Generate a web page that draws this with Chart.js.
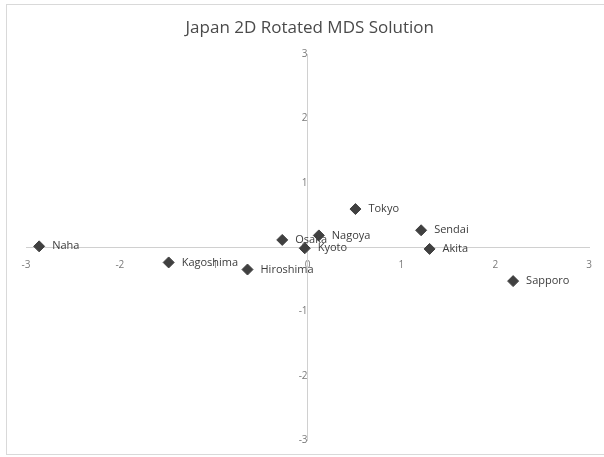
<!DOCTYPE html>
<html>
<head>
<meta charset="utf-8">
<script src="https://cdn.jsdelivr.net/npm/chart.js@4.4.0/dist/chart.umd.min.js"></script>
<style>
html, body { margin: 0; padding: 0; background: #fff; }
#wrap { width: 604px; height: 457px; }
</style>
</head>
<body>
<div id="wrap"><canvas id="mds"></canvas></div>
<script>
// city names and their two rotated MDS coordinates
const cities = ['Naha', 'Kagoshima', 'Hiroshima', 'Osaka', 'Kyoto', 'Nagoya', 'Tokyo', 'Sendai', 'Akita', 'Sapporo'];
const dim1 = [-2.86, -1.48, -0.64, -0.27, -0.03, 0.12, 0.51, 1.21, 1.30, 2.19];
const dim2 = [0.01, -0.24, -0.35, 0.11, -0.02, 0.18, 0.59, 0.26, -0.03, -0.53];
const axisTicks = [-3, -2, -1, 0, 1, 2, 3];

const points = cities.map((c, i) => ({ x: dim1[i], y: dim2[i] }));

// labels drawn to the right of each diamond, like excel data labels
const cityLabels = {
	id: 'cityLabels',
	afterDatasetsDraw(chart) {
		const ctx = chart.ctx;
		const meta = chart.getDatasetMeta(0);
		ctx.save();
		ctx.font = '11px "Open Sans"';
		ctx.fillStyle = '#3c3c3c';
		ctx.textBaseline = 'middle';
		meta.data.forEach((pt, i) => {
			ctx.fillText(cities[i], pt.x + 13, pt.y);
		});
		ctx.restore();
	}
};

// thin grey frame round the chart
const frame = {
	id: 'frame',
	beforeDraw(chart) {
		const ctx = chart.ctx;
		ctx.save();
		ctx.strokeStyle = '#d9d9d9';
		ctx.lineWidth = 1;
		ctx.strokeRect(6.5, 4.5, 610, 450);
		ctx.restore();
	}
};

const tickFont = { family: 'Open Sans', size: 10 };

new Chart(document.getElementById('mds'), {
	type: 'scatter',
	data: {
		datasets: [{
			data: points,
			pointStyle: 'rectRot',
			pointRadius: 5.5,
			pointHoverRadius: 5.5,
			borderWidth: 1,
			backgroundColor: '#404040',
			borderColor: '#404040'
		}]
	},
	options: {
		responsive: true,
		maintainAspectRatio: false,
		animation: false,
		layout: {
			padding: { left: 26, right: 10.5, top: 0, bottom: 16 }
		},
		plugins: {
			legend: { display: false },
			tooltip: { enabled: false },
			title: {
				display: true,
				text: 'Japan 2D Rotated MDS Solution',
				color: '#4a4a4a',
				font: { family: 'Open Sans', size: 17, weight: 'normal' },
				padding: { top: 18, bottom: 15.6 }
			}
		},
		scales: {
			x: {
				min: -3,
				max: 3,
				position: { y: 0 },
				afterFit: s => { s.height = 0; },
				afterBuildTicks: s => { s.ticks = axisTicks.map(v => ({ value: v })); },
				grid: { display: false, drawTicks: false },
				border: { display: true, color: '#d0d0d0', width: 1 },
				ticks: { autoSkip: false, maxRotation: 0, padding: 12, color: '#7a7a7a', font: tickFont }
			},
			y: {
				min: -3,
				max: 3,
				position: { x: 0 },
				afterFit: s => { s.width = 0; },
				afterBuildTicks: s => { s.ticks = axisTicks.map(v => ({ value: v })); },
				grid: { display: false, drawTicks: false },
				border: { display: true, color: '#d0d0d0', width: 1 },
				ticks: { autoSkip: false, padding: 11, color: '#7a7a7a', font: tickFont }
			}
		}
	},
	plugins: [frame, cityLabels]
});
</script>
</body>
</html>
